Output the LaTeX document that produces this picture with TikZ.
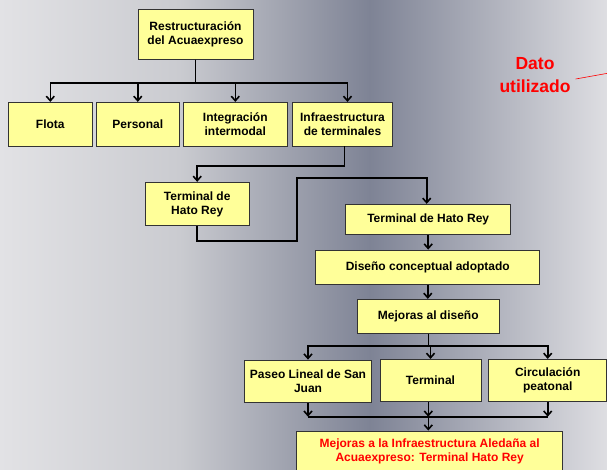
\documentclass[tikz,border=0pt]{standalone}
\usepackage{fontspec}
\setmainfont{Liberation Sans}
\usetikzlibrary{arrows.meta}
\definecolor{boxyellow}{RGB}{255,255,153}
\definecolor{bgleft}{RGB}{226,226,229}
\definecolor{bgmid}{RGB}{202,203,208}
\definecolor{bgdark}{RGB}{126,131,149}
\definecolor{bgright}{RGB}{222,222,226}
\newcommand{\bx}{\fontsize{12}{14}\selectfont\bfseries}
\newcommand{\notefont}{\fontsize{17.5}{23}\selectfont\bfseries}

\begin{document}
\begin{tikzpicture}[
  x=1pt, y=-1pt,
  >={Straight Barb[length=4.5pt,width=8pt]},
  blk/.style={draw=black!80, fill=boxyellow, line width=0.9pt, font=\bx, align=center, inner sep=1pt},
  link/.style={line width=1.6pt, black},
]
  % ---------------- background
  \useasboundingbox (0,0) rectangle (607,470);
  \clip (0,0) rectangle (607,470);
  \shade[left color=bgleft, right color=bgmid] (0,0) rectangle (180,470);
  \shade[left color=bgmid, right color=bgdark] (179.5,0) rectangle (370,470);
  \shade[left color=bgdark, right color=bgright] (369.5,0) rectangle (607,470);

  % ---------------- first level
  \node[blk, minimum width=115pt, minimum height=50pt] (root) at (195.5,34.3) {Restructuración\\del Acuaexpreso};
  \node[blk, minimum width=84pt, minimum height=43.7pt] (flota) at (50.3,124.2) {Flota};
  \node[blk, minimum width=83pt, minimum height=43.7pt] (personal) at (137.8,124.2) {Personal};
  \node[blk, minimum width=104pt, minimum height=43.7pt] (integ) at (235.3,124.2) {Integración\\intermodal};
  \node[blk, minimum width=100pt, minimum height=43.7pt] (infra) at (342.5,124.2) {Infraestructura\\de terminales};
  \foreach \t in {flota, personal, integ}
    \draw[link, ->] (root.south) -- ++(0,23.5) -| (\t.north);
  \draw[link, ->] (root.south) -- ++(0,23.5) -| ([xshift=5pt]infra.north);

  % ---------------- terminal chain
  \node[blk, minimum width=104pt, minimum height=43.4pt] (thr1) at (197.2,204) {Terminal de\\Hato Rey};
  \node[blk, minimum width=165pt, minimum height=30.7pt] (thr2) at (428.2,219.6) {Terminal de Hato Rey};
  \node[blk, minimum width=224pt, minimum height=34.3pt] (diseno) at (427.8,267.2) {Diseño conceptual adoptado};
  \node[blk, minimum width=142pt, minimum height=34pt] (mejoras) at (428.3,316.3) {Mejoras al diseño};
  \coordinate (loop) at (296.7,178.3);
  \draw[link, ->] ([xshift=2pt]infra.south) -- ++(0,19.5) -| (thr1.north);
  \draw[link, ->] (thr1.south) -- ++(0,15) -| (loop) -| ([xshift=-1.5pt]thr2.north);
  \draw[link, ->] (thr2.south) -- (thr2.south |- diseno.north);
  \draw[link, ->] (diseno.south) -- (diseno.south |- mejoras.north);

  % ---------------- improvements
  \node[blk, minimum width=127pt, minimum height=42.3pt] (paseo) at (308,381.2) {Paseo Lineal de San\\Juan};
  \node[blk, minimum width=101pt, minimum height=42.3pt] (term) at (430.5,380.5) {Terminal};
  \node[blk, minimum width=118pt, minimum height=42.3pt] (circ) at (547.7,380.5) {Circulación\\peatonal};
  \foreach \t in {paseo, term, circ}
    \draw[link, ->] (mejoras.south) -- ++(0,12.4) -| (\t.north);
  \coordinate (bus) at (428.3,416.7);
  \foreach \t in {paseo, circ}
    \draw[link, ->] (\t.south) -- (\t.south |- bus);
  \draw[link, ->] (term.south -| bus) -- (bus);
  \draw[link] (paseo.south |- bus) -- (circ.south |- bus);
  \node[blk, minimum width=266pt, minimum height=40pt, text=red] (final) at (429.7,451)
    {Mejoras a la Infraestructura Aledaña al\\Acuaexpreso: Terminal Hato Rey};
  \draw[link, ->] (bus) -- (bus |- final.north);

  % ---------------- note
  \node[text=red, font=\notefont, align=center, inner sep=1pt] (dato) at (535,75) {Dato\\utilizado};
  \coordinate (edge) at (612,72.5);
  \draw[red, line width=0.6pt] ([xshift=4pt,yshift=-4pt]dato.east) -- (edge);
\end{tikzpicture}
\end{document}
